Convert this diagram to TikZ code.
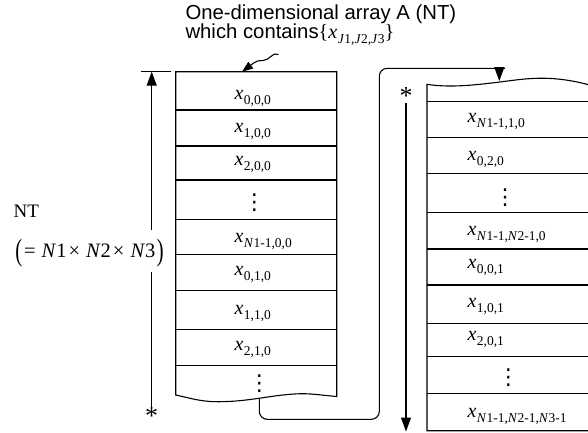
\documentclass[tikz,border=0pt]{standalone}
\usepackage{fontspec}
\usepackage{graphicx}
\setmainfont{Liberation Serif}
\newfontfamily\arialf{Liberation Sans}
\newfontfamily\dejavu{DejaVu Sans}
\usetikzlibrary{arrows.meta}
\newcommand\xv[1]{\textit{x}\kern0.5pt\raisebox{-5pt}{\fontsize{13.5}{13.5}\selectfont #1}}
\newcommand\Nv{\textit{N}}
\begin{document}
\begin{tikzpicture}[x=1pt,y=-1pt,line width=1.1pt,
  lab/.style={anchor=base west,inner sep=0pt,font=\fontsize{20}{20}\selectfont},
  dotsn/.style={anchor=base,inner sep=0pt,font=\dejavu\fontsize{22}{22}\selectfont},
  ttl/.style={anchor=base west,inner sep=0pt,font=\arialf\fontsize{20.3}{20.3}\selectfont},
  astn/.style={inner sep=0pt,font=\fontsize{26}{26}\selectfont},
  tip/.style={-{Triangle[width=10pt,length=14pt]}}]
\useasboundingbox (0,0) rectangle (588,432);
\begin{scope}
\clip (0,0) rectangle (588,432);
% left array
\draw (175.7,71.7) -- (336.7,71.7) -- (336.7,396.5)
  .. controls (320,395) and (310,393.3) .. (298,393.8)
  .. controls (270,395) and (250,401.7) .. (218,401.7)
  .. controls (200,401.7) and (190,398) .. (175.7,395) -- cycle;
\foreach \y in {110,146,180,219.3,254.7,290.7,329.3,365.7}
  \draw (175.7,\y) -- (336.7,\y);
\node[lab] (a1) at (234,99) {\xv{0,0,0}};
\node[lab] (a2) at (234,132) {\xv{1,0,0}};
\node[lab] (a3) at (234,165.5) {\xv{2,0,0}};
\node[dotsn] (a4) at (254.3,209) {⋮};
\node[lab] (a5) at (234,242) {\xv{\Nv1-1,0,0}};
\node[lab] (a6) at (234,275.5) {\xv{0,1,0}};
\node[lab] (a7) at (234,314) {\xv{1,1,0}};
\node[lab] (a8) at (234,350.5) {\xv{2,1,0}};
\node[dotsn] (a9) at (259.3,390) {⋮};
% right array
\draw (600,430.7) -- (427,430.7) -- (427,84.3)
  .. controls (450,88) and (475,85) .. (500,82)
  .. controls (530,78) and (555,74) .. (600,88);
\foreach \y in {101.7,137.3,173.3,212.7,249,285,323.3,356.7,393.3}
  \draw (427,\y) -- (600,\y);
\node[lab] (b1) at (467,122) {\xv{\Nv1-1,1,0}};
\node[lab] (b2) at (467,160.5) {\xv{0,2,0}};
\node[dotsn] (b3) at (505,204) {⋮};
\node[lab] (b4) at (467,235.5) {\xv{\Nv1-1,\Nv2-1,0}};
\node[lab] (b5) at (467,268.8) {\xv{0,0,1}};
\node[lab] (b6) at (467,307) {\xv{1,0,1}};
\node[lab] (b7) at (467,340.5) {\xv{2,0,1}};
\node[dotsn] (b8) at (508.3,384) {⋮};
\node[lab] (b9) at (467,417) {\xv{\Nv1-1,\Nv2-1,\Nv3-1}};
% connector
\coordinate (lb) at (259.3,398);
\coordinate (ctop) at (505,68.3);
\coordinate (rt) at (499.3,81);
\draw[rounded corners=8pt] (lb) |- (379.3,419.3) |- (ctop);
\draw[tip] (499.3,68.3) -- (rt);
\end{scope}
% title
\node[ttl] (t1) at (185,19.5) {One-dimensional array A (NT)};
\node[ttl] (t2) at (185,38.5) {which contains{\rmfamily\{\xv{\textit{J}1,\textit{J}2,\textit{J}3}\}}};
\coordinate (tw) at (278.5,54.5);
\coordinate (lt) at (242,71.7);
\draw[-{Triangle[width=8pt,length=11pt]}] (tw) .. controls (273,51) and (269,61) .. (263,60.5)
  .. controls (259,60) and (257,60.5) .. (lt);
% left dimension
\coordinate (tk1) at (141,71.7);
\coordinate (tk2) at (171,71.7);
\draw (tk1) -- (tk2);
\node[anchor=base west,inner sep=0pt,font=\fontsize{19}{19}\selectfont] (nt) at (13,217) {NT};
\node[inner sep=0pt,font=\fontsize{20.5}{20.5}\selectfont] (ntf) at (89.5,253)
  {\raisebox{-3pt}{\scalebox{1}[1.5]{(}}\kern2pt=\kern6pt\Nv1\kern2pt×\kern6pt\Nv2\kern2pt×\kern6pt\Nv3\kern1.5pt\raisebox{-3pt}{\scalebox{1}[1.5]{)}}};
\coordinate (g1) at (151.7,230);
\coordinate (g2) at (151.7,271.7);
\coordinate (lup) at (151.7,71.7);
\node[astn,anchor=base] (s1) at (151.7,424) {*};
\coordinate (s1t) at (151.7,406.5);
\draw[tip] (g1) -- (lup);
\draw (g2) -- (s1t);
% right dimension
\node[astn,anchor=base] (s2) at (406,104) {*};
\coordinate (s2b) at (406,103);
\coordinate (rdn) at (406,431.5);
\draw[tip] (s2b) -- (rdn);
\end{tikzpicture}
\end{document}
